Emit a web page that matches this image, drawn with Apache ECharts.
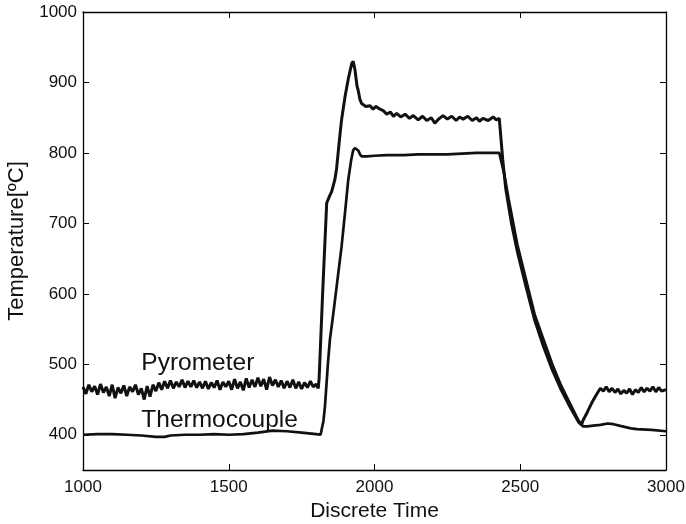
<!DOCTYPE html>
<html>
<head>
<meta charset="utf-8">
<script src="https://cdn.jsdelivr.net/npm/echarts@6/dist/echarts.min.js"></script>
<style>
  html, body { margin: 0; padding: 0; background: #fff; }
  #chart { width: 686px; height: 524px; }
</style>
</head>
<body>
<div id="chart"></div>
<script>
// pyrometer: noisy baseline, overshoot, plateau, cooling, recovery
const pyroTime = [
  1000,1010,1020,1030,1040,1050,1060,1070,1080,1090,
  1100,1110,1120,1130,1140,1150,1160,1170,1180,1190,
  1200,1210,1220,1230,1240,1250,1260,1270,1280,1290,
  1300,1310,1320,1330,1340,1350,1360,1370,1380,1390,
  1400,1410,1420,1430,1440,1450,1460,1470,1480,1490,
  1500,1510,1520,1530,1540,1550,1560,1570,1580,1590,
  1600,1610,1620,1630,1640,1650,1660,1670,1680,1690,
  1700,1710,1720,1730,1740,1750,1760,1770,1780,1790,
  1800,1807,1810,1822,1836,1845,1853,1864,1870,1880,1887,1899,1910,1922,1927,1933,1940,1944,1950,1956,1970,
  1985,1995,2005,2019,2030,2042,2055,2065,2076,2090,2105,2120,2133,2150,2165,2179,2195,2207,2220,2235,2250,2265,2280,2292,2304,
  2320,2335,2350,2360,2372,2390,2407,2418,2428,
  2440,2450,2470,2490,2520,2550,2580,2610,2640,2670,2700,2710,
  2715,2730,2745,2760,2775,2785,2795,2805,2815,2825,2835,2845,2855,2865,2875,2885,2895,2905,2915,2925,2935,2945,2955,2965,2975,2985,3000
];
const pyroTemp = [
  468,458,471,461,469,457,472,460,468,455,
  471,452,467,459,470,455,468,461,471,457,
  466,450,469,454,471,462,474,464,476,466,
  477,466,475,468,478,467,476,468,477,467,
  475,466,476,465,474,467,477,464,475,468,
  476,464,479,466,475,463,480,467,478,468,
  481,469,479,464,482,470,478,468,477,466,
  476,467,478,466,475,465,474,467,476,468,
  472,466,480,600,729,738,745,762,778,820,847,880,905,927,930,918,895,889,876,870,866,
  867,862,866,862,860,855,858,852,856,851,855,849,853,847,852,846,850,842,848,853,848,852,846,851,848,
  852,846,850,845,849,846,851,847,849,
  790,750,700,660,610,562,525,492,464,440,418,414,
  420,432,445,456,466,462,468,461,466,460,465,458,463,459,465,457,464,460,467,461,466,462,468,461,467,462,464
];

// thermocouple: smoother, lags the pyrometer
const thermoTime = [
  1000,1050,1100,1150,1200,1250,1280,1300,1350,1400,1450,1500,1550,1600,1650,1700,1750,1800,1815,1819,
  1825,1830,1840,1847,1859,1870,1887,1900,1910,1920,1927,1933,1939,1945,1950,1956,1973,
  2000,2042,2100,2150,2200,2250,2300,2350,2400,2428,
  2445,2460,2490,2520,2550,2580,2610,2640,2670,2700,2715,
  2730,2750,2775,2800,2820,2850,2880,2900,2950,3000
];
const thermoTemp = [
  400,401,401,400,399,397,397,399,400,400,401,400,401,403,406,405,403,401,400,402,
  420,440,500,535,573,610,667,720,762,790,804,807,808,803,798,795,795,
  796,797,797,798,798,798,799,800,800,800,
  770,735,670,620,570,535,500,470,445,420,412,
  412,413,414,416,415,412,409,408,407,405
];

const yTicks = [400, 500, 600, 700, 800, 900, 1000];

// where the two curve names sit, in data units
const pyroNameAt = [1200, 502];
const thermoNameAt = [1200, 421];

const font = "'Liberation Sans', Arial, Helvetica, sans-serif";
const ink = '#111';

const zip = (xs, ys) => xs.map((x, i) => [x, ys[i]]);
const plain = (v) => String(v);

const chart = echarts.init(document.getElementById('chart'), null, { renderer: 'canvas' });

const xBase = {
  type: 'value', min: 1000, max: 3000, interval: 500,
  axisLine: { show: true, onZero: false, lineStyle: { color: '#000', width: 1.3 } },
  axisTick: { show: true, inside: true, length: 6, lineStyle: { color: '#000', width: 1 } },
  splitLine: { show: false }
};
const yBase = {
  type: 'value', min: 350, max: 1000,
  axisLine: { show: true, onZero: false, lineStyle: { color: '#000', width: 1.3 } },
  axisTick: { show: true, inside: true, length: 6, customValues: yTicks, lineStyle: { color: '#000', width: 1 } },
  splitLine: { show: false }
};

const nameLabel = (txt) => ({
  show: true, position: 'right', distance: 0, formatter: txt,
  fontFamily: font, fontSize: 24.5, color: '#111'
});

chart.setOption({
  animation: false,
  backgroundColor: '#fff',
  grid: { left: 83, right: 20, top: 12, bottom: 54, outerBoundsMode: 'none', containLabel: false },
  xAxis: [
    Object.assign({}, xBase, {
      position: 'bottom',
      name: 'Discrete Time', nameLocation: 'middle', nameGap: 30,
      nameTextStyle: { fontFamily: font, fontSize: 21, color: '#111' },
      axisLabel: { margin: 9, formatter: plain, fontFamily: font, fontSize: 17, color: '#111' }
    }),
    Object.assign({}, xBase, { position: 'top', axisLabel: { show: false } })
  ],
  yAxis: [
    Object.assign({}, yBase, {
      position: 'left',
      name: 'Temperature[ºC]', nameLocation: 'middle', nameGap: 54,
      nameTextStyle: { fontFamily: font, fontSize: 22, color: '#111' },
      axisLabel: { margin: 6, customValues: yTicks, formatter: plain, fontFamily: font, fontSize: 17, color: '#111' }
    }),
    Object.assign({}, yBase, { position: 'right', axisLabel: { show: false } })
  ],
  series: [
    {
      name: 'Pyrometer', type: 'line', xAxisIndex: 0, yAxisIndex: 0,
      data: zip(pyroTime, pyroTemp), showSymbol: false, symbol: 'none',
      lineStyle: { color: ink, width: 3 },
      markPoint: {
        symbol: 'circle', symbolSize: 0,
        label: nameLabel('Pyrometer'),
        data: [{ coord: pyroNameAt }]
      }
    },
    {
      name: 'Thermocouple', type: 'line', xAxisIndex: 0, yAxisIndex: 0,
      data: zip(thermoTime, thermoTemp), showSymbol: false, symbol: 'none',
      lineStyle: { color: ink, width: 2.7 },
      markPoint: {
        symbol: 'circle', symbolSize: 0,
        label: nameLabel('Thermocouple'),
        data: [{ coord: thermoNameAt }]
      }
    }
  ]
});
</script>
</body>
</html>
